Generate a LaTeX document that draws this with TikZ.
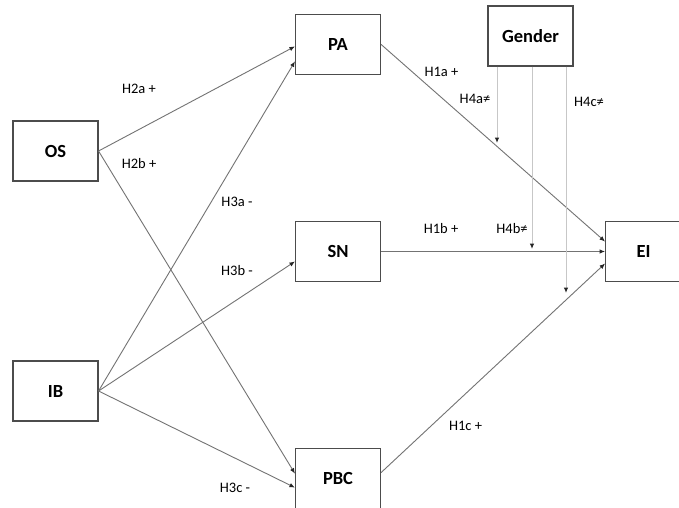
\documentclass[tikz,border=0pt]{standalone}
\usepackage{fontspec}
\setmainfont{Carlito}
\usetikzlibrary{positioning,arrows.meta}

\begin{document}
\begin{tikzpicture}[x=1pt, y=-1pt,
    construct/.style={draw=black!70, line width=1.1pt, minimum width=85pt, minimum height=60pt, inner sep=0pt, font=\fontsize{18.5}{20}\selectfont\bfseries},
    effect/.style={draw=black!55, line width=0.9pt, -{Latex[length=5.5pt, width=4.5pt, color=black!85]}},
    moderation/.style={draw=black!22, line width=1pt, -{Latex[length=5.5pt, width=4.5pt, color=black!85]}},
    hyp/.style={font=\fontsize{14.5}{16}\selectfont, text=black, inner sep=0pt}]
  \path[use as bounding box, fill=white] (0,0) rectangle (679,507);

  \node[construct] (os) at (55.5,151) {OS};
  \node[construct] (ib) at (55.5,391) {IB};
  \node[construct] (sn) at (338,251.5) {SN};
  \node[construct, above = 146pt of sn] (pa) {PA};
  \node[construct, below = 166pt of sn] (pbc) {PBC};
  \node[construct, right = 224pt of sn, minimum width=76pt] (ei) {EI};
  \node[construct] (gender) at (530.5,36) {Gender};

  \coordinate (h4a) at (497,143);
  \coordinate (h4b) at (532,249);
  \coordinate (h4c) at (566,293);

  \draw[effect] (os.east) -- ([yshift=-2pt]pa.west);
  \draw[effect] (os.east) -- ([yshift=5pt]pbc.west);
  \draw[effect] (ib.east) -- ([yshift=-17pt]pa.west);
  \draw[effect] (ib.east) -- ([yshift=-10pt]sn.west);
  \draw[effect] (ib.east) -- ([yshift=-9pt]pbc.west);
  \draw[effect] (pa.east) -- ([yshift=10pt]ei.west);
  \draw[effect] (sn.east) -- (ei.west);
  \draw[effect] ([yshift=6pt]pbc.east) -- ([yshift=-12pt]ei.west);

  \draw[moderation] (gender.south -| h4a) -- (h4a);
  \draw[moderation] (gender.south -| h4b) -- (h4b);
  \draw[moderation] (gender.south -| h4c) -- (h4c);

  \node[hyp] (l2a) at (139,89) {H2a +};
  \node[hyp] (l2b) at (139,164) {H2b +};
  \node[hyp] (l3a) at (237,202) {H3a -};
  \node[hyp] (l3b) at (237,271) {H3b -};
  \node[hyp] (l3c) at (235,488) {H3c -};
  \node[hyp] (l1a) at (441.5,72) {H1a +};
  \node[hyp] (l4a) at (475,99) {H4a≠};
  \node[hyp] (l4c) at (589,102) {H4c≠};
  \node[hyp] (l1b) at (441,229) {H1b +};
  \node[hyp] (l4b) at (512,229) {H4b≠};
  \node[hyp] (l1c) at (465.5,425.5) {H1c +};
\end{tikzpicture}
\end{document}
